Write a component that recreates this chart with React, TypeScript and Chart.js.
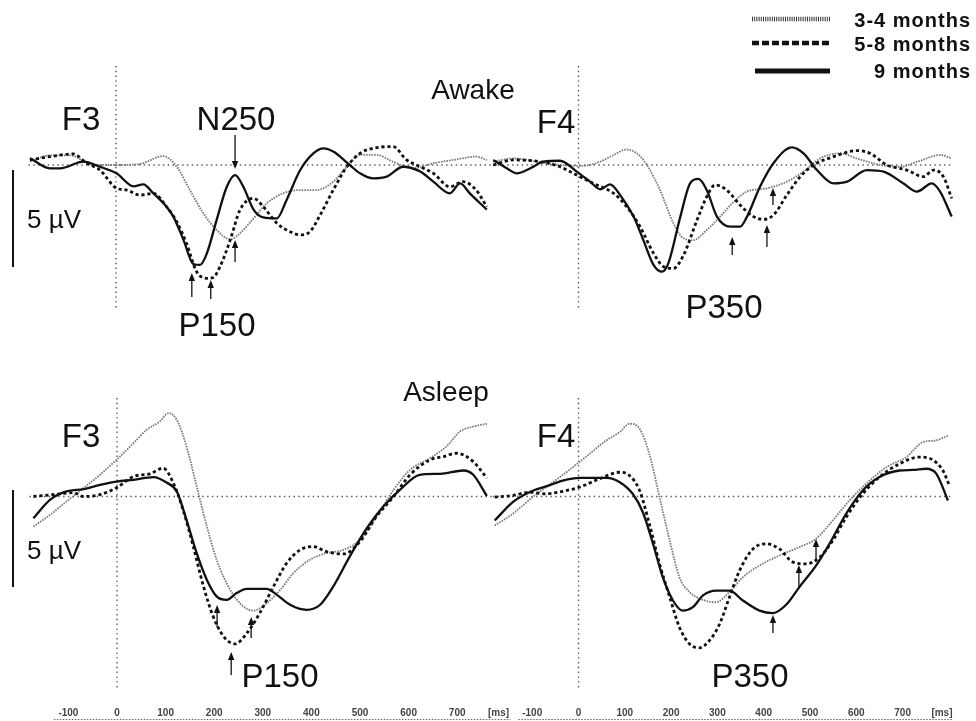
import React, { useEffect, useRef } from 'react';
import { Chart, registerables } from 'chart.js';

Chart.register(...registerables);

type Pt = [number, number];
type Arrow = [number, number, number]; // [ms, tail µV, tip µV]

const seriesNames = ['3-4 months', '5-8 months', '9 months'];
const xTickValues = [-100, 0, 100, 200, 300, 400, 500, 600, 700];
const xUnitLabel = '[ms]';

// ---- Awake, F3 ----
const awakeF3_34: Pt[] = [[-177,-0.17],[-136,-0.5],[-95,-0.5],[-47,0],[1,0],[49,-0.05],[97,-0.46],[125,0.09],[152,1.29],[180,2.5],[207,3.35],[235,3.83],[255,3.52],[283,2.75],[310,1.98],[344,1.46],[379,1.29],[413,1.29],[447,0.86],[475,0.09],[502,-0.52],[536,-0.52],[570,-0.17],[611,0.17],[653,-0.09],[694,-0.26],[741,-0.43],[763,-0.26]];
const awakeF3_58: Pt[] = [[-177,-0.26],[-136,-0.43],[-88,-0.57],[-60,-0.09],[-33,0.26],[1,1.2],[22,1.29],[49,1.55],[77,1.46],[104,2.15],[125,2.92],[145,4.04],[166,5.5],[187,5.84],[200,5.8],[214,5.24],[235,3.87],[255,2.32],[283,1.72],[303,2.15],[331,3.0],[358,3.44],[379,3.6],[399,3.44],[420,2.58],[447,1.29],[475,0.09],[502,-0.6],[529,-0.86],[570,-0.95],[598,-0.26],[626,0.09],[653,0.43],[687,1.12],[714,0.86],[741,1.29],[763,2.15]];
const awakeF3_9: Pt[] = [[-177,-0.35],[-136,0.17],[-115,0.17],[-67,-0.17],[-33,0.09],[1,0.43],[36,1.1],[56,1.0],[77,1.46],[104,2.15],[118,2.66],[139,3.87],[159,5.1],[173,5.15],[187,4.55],[207,2.84],[228,1.12],[245,0.52],[262,1.12],[283,2.3],[303,2.7],[331,2.75],[351,1.8],[379,0.26],[406,-0.6],[427,-0.86],[447,-0.69],[481,0],[502,0.43],[529,0.69],[557,0.6],[591,0.09],[626,0.34],[653,0.86],[687,1.46],[708,0.95],[728,1.46],[763,2.3]];

// ---- Awake, F4 ----
const awakeF4_34: Pt[] = [[-184,-0.17],[-140,-0.34],[-90,-0.17],[-40,0],[4,0.05],[47,-0.17],[76,-0.52],[104,-0.8],[126,-0.6],[148,0],[176,1.29],[205,3.0],[227,3.78],[248,3.87],[277,3.35],[306,2.66],[335,1.9],[364,1.37],[407,1.2],[450,0.86],[486,0.34],[522,-0.34],[565,-0.6],[601,-0.34],[652,0],[695,0.09],[738,-0.22],[781,-0.52],[806,-0.34]];
const awakeF4_58: Pt[] = [[-184,0],[-140,-0.26],[-83,-0.17],[-40,0.09],[-4,0.52],[32,0.95],[76,1.46],[104,2.15],[133,3.18],[162,4.55],[184,5.24],[205,5.33],[227,4.64],[256,2.84],[277,1.63],[295,1.03],[320,1.29],[349,2.06],[378,2.66],[400,2.8],[421,2.58],[450,1.55],[479,0.6],[508,0],[551,-0.43],[601,-0.74],[630,-0.6],[666,0],[709,0.26],[745,0.6],[767,0.26],[788,0.6],[806,1.72]];
const awakeF4_9: Pt[] = [[-184,-0.26],[-155,0.17],[-133,0.43],[-104,0.17],[-76,-0.17],[-40,-0.22],[-4,0.34],[25,0.86],[47,1.25],[68,1.0],[90,1.55],[119,2.66],[140,3.87],[162,5.15],[180,5.5],[194,5.07],[220,2.66],[241,0.95],[259,0.72],[277,1.29],[299,2.66],[328,3.18],[349,3.18],[364,2.66],[392,1.12],[421,-0.09],[461,-0.91],[486,-0.6],[515,0.26],[551,0.95],[580,0.86],[623,0.26],[659,0.34],[702,0.95],[731,1.37],[763,0.95],[781,1.37],[806,2.66]];

// ---- Asleep, F3 ----
const asleepF3_34: Pt[] = [[-172,1.55],[-138,0.95],[-104,0.26],[-69,-0.43],[-35,-1.12],[-1,-1.89],[34,-2.75],[61,-3.44],[88,-3.87],[106,-4.3],[123,-3.95],[143,-2.58],[164,-0.52],[185,1.55],[205,3.26],[233,4.81],[260,5.67],[281,5.88],[308,5.5],[336,4.81],[363,3.95],[397,3.26],[431,2.92],[466,2.75],[500,2.23],[534,1.03],[569,-0.34],[603,-1.37],[644,-1.98],[678,-2.58],[706,-3.35],[734,-3.61],[761,-3.75]];
const asleepF3_58: Pt[] = [[-172,0],[-131,-0.1],[-90,-0.2],[-69,0],[-35,-0.1],[-1,-0.45],[34,-1.03],[68,-1.17],[95,-1.46],[116,-0.69],[136,0.69],[157,2.58],[178,4.64],[198,6.19],[219,7.2],[243,7.6],[267,7.05],[294,6.0],[322,4.64],[349,3.44],[377,2.75],[404,2.58],[431,2.84],[466,2.96],[500,2.32],[534,1.03],[569,0],[603,-1.12],[644,-1.89],[672,-2.06],[699,-2.23],[733,-1.8],[761,-0.95]];
const asleepF3_9: Pt[] = [[-172,1.12],[-138,0.17],[-104,-0.26],[-69,-0.38],[-35,-0.6],[-1,-0.77],[34,-0.86],[75,-1.0],[102,-0.72],[123,-0.26],[143,1.2],[164,2.92],[185,4.3],[205,5.15],[226,5.33],[246,4.98],[267,4.76],[308,4.76],[329,5.07],[356,5.58],[390,5.84],[418,5.58],[445,4.64],[479,3.09],[514,1.63],[548,0.52],[582,-0.34],[623,-1.12],[665,-1.17],[713,-1.34],[733,-1.12],[761,-0.03]];

// ---- Asleep, F4 ----
const asleepF4_34: Pt[] = [[-181,1.49],[-142,0.89],[-99,0.03],[-55,-0.74],[-12,-1.51],[24,-2.2],[60,-2.89],[89,-3.32],[110,-3.75],[132,-3.49],[153,-2.2],[175,0.03],[197,2.27],[218,4.16],[240,4.93],[269,5.33],[297,5.45],[326,4.93],[355,4.16],[391,3.56],[434,3.04],[477,2.61],[513,2.18],[549,1.24],[585,0.21],[621,-0.65],[665,-1.51],[708,-2.03],[744,-2.8],[772,-2.89],[798,-3.14]];
const asleepF4_58: Pt[] = [[-181,0.03],[-142,-0.05],[-106,-0.22],[-70,-0.14],[-34,-0.27],[2,-0.48],[45,-0.91],[89,-1.25],[110,-1.08],[132,-0.31],[153,1.41],[175,3.47],[197,5.19],[218,6.74],[240,7.6],[261,7.8],[283,7.42],[305,6.56],[326,5.19],[348,3.81],[377,2.7],[405,2.44],[434,2.7],[463,3.38],[492,3.47],[521,3.13],[549,2.27],[578,1.07],[614,-0.14],[650,-1.0],[693,-1.68],[736,-2.03],[765,-1.89],[787,-1.34],[801,-0.57]];
const asleepF4_9: Pt[] = [[-181,1.24],[-142,0.29],[-106,-0.22],[-70,-0.52],[-34,-0.82],[2,-0.96],[60,-0.96],[89,-0.74],[117,-0.14],[139,0.81],[161,2.44],[182,4.16],[204,5.36],[225,5.88],[247,5.7],[269,5.1],[297,4.85],[326,4.85],[355,5.36],[391,5.88],[420,6.01],[449,5.57],[477,4.67],[513,3.56],[542,2.44],[578,0.89],[614,-0.31],[650,-1.0],[693,-1.34],[722,-1.37],[751,-1.43],[773,-1.17],[798,0.21]];

// ---- Peak arrows [ms, tail µV, tip µV] ----
const awakeF3Arrows: Arrow[] = [[245,-1.55,0.21],[156,6.8,5.57],[195,6.91,5.93],[245,5.0,3.87]];
const awakeF4Arrows: Arrow[] = [[332,4.64,3.71],[407,4.23,3.09],[420,2.06,1.19]];
const asleepF3Arrows: Arrow[] = [[206,6.73,5.59],[276,7.29,6.21],[235,9.2,8.02]];
const asleepF4Arrows: Arrow[] = [[420,7.04,6.11],[476,4.66,3.53],[513,3.38,2.19]];

// ---- layout ----
const W = 976;
const H = 721;
const FONT = '"Liberation Sans", Arial, Helvetica, sans-serif';
const PX_PER_UV = 19.4;
const SCALE_BAR_UV = 5;

const panels = [
  { key: 'AF3', zeroX: 116, baseY: 165, pxPerMs: 0.486, series: [awakeF3_34, awakeF3_58, awakeF3_9], arrows: awakeF3Arrows, base: [-180, 780], vLine: [66, 308], scaleBarFrom: 0.26, axis: false },
  { key: 'AF4', zeroX: 578.5, baseY: 165, pxPerMs: 0.463, series: [awakeF4_34, awakeF4_58, awakeF4_9], arrows: awakeF4Arrows, base: [-185, 808], vLine: [66, 308], scaleBarFrom: null, axis: false },
  { key: 'SF3', zeroX: 117, baseY: 496.5, pxPerMs: 0.486, series: [asleepF3_34, asleepF3_58, asleepF3_9], arrows: asleepF3Arrows, base: [-180, 780], vLine: [398, 690], scaleBarFrom: -0.33, axis: true },
  { key: 'SF4', zeroX: 578.5, baseY: 496.5, pxPerMs: 0.463, series: [asleepF4_34, asleepF4_58, asleepF4_9], arrows: asleepF4Arrows, base: [-185, 808], vLine: [398, 690], scaleBarFrom: null, axis: true },
];

const seriesStyle = [
  { color: '#7a7a7a', width: 1.8, dash: [1.6, 1.1], order: 2 },
  { color: '#111111', width: 2.8, dash: [3.2, 2.8], order: 1 },
  { color: '#111111', width: 2.3, dash: [] as number[], order: 0 },
];

const labels = [
  { t: 'Awake', x: 473, y: 99, size: 28 },
  { t: 'F3', x: 81, y: 130, size: 33 },
  { t: 'N250', x: 236, y: 130, size: 33 },
  { t: 'F4', x: 556, y: 133, size: 33 },
  { t: '5 µV', x: 54, y: 228, size: 26 },
  { t: 'P150', x: 217, y: 336, size: 33 },
  { t: 'P350', x: 724, y: 318, size: 33 },
  { t: 'Asleep', x: 446, y: 401, size: 28 },
  { t: 'F3', x: 81, y: 447, size: 33 },
  { t: 'F4', x: 556, y: 447, size: 33 },
  { t: '5 µV', x: 54, y: 559, size: 26 },
  { t: 'P150', x: 280, y: 687, size: 33 },
  { t: 'P350', x: 750, y: 687, size: 33 },
];

const legendRows = [
  { y: 19, textY: 27, x1: 752, dash: [1, 1.2], width: 4.5, color: '#333' },
  { y: 43, textY: 51, x1: 752, dash: [7, 3], width: 4.5, color: '#111' },
  { y: 71, textY: 78, x1: 755, dash: [] as number[], width: 5, color: '#111' },
];

function dottedStyle(ctx: CanvasRenderingContext2D) {
  ctx.strokeStyle = '#555';
  ctx.lineWidth = 1.4;
  ctx.setLineDash([1.4, 3.4]);
}

function drawArrow(ctx: CanvasRenderingContext2D, x: number, yTail: number, yTip: number) {
  const dir = yTip < yTail ? 1 : -1; // 1 => pointing up
  ctx.setLineDash([]);
  ctx.strokeStyle = '#111';
  ctx.fillStyle = '#111';
  ctx.lineWidth = 1.3;
  ctx.beginPath();
  ctx.moveTo(x, yTail);
  ctx.lineTo(x, yTip + dir * 5);
  ctx.stroke();
  ctx.beginPath();
  ctx.moveTo(x, yTip);
  ctx.lineTo(x - 3.2, yTip + dir * 8);
  ctx.lineTo(x + 3.2, yTip + dir * 8);
  ctx.closePath();
  ctx.fill();
}

const annotPlugin = {
  id: 'erpAnnotations',
  beforeDatasetsDraw(chart: any) {
    const ctx: CanvasRenderingContext2D = chart.ctx;
    ctx.save();
    for (const p of panels) {
      const xs = chart.scales['x' + p.key];
      const ys = chart.scales['y' + p.key];
      dottedStyle(ctx);
      const y0 = ys.getPixelForValue(0);
      ctx.beginPath();
      ctx.moveTo(xs.getPixelForValue(p.base[0]), y0);
      ctx.lineTo(xs.getPixelForValue(p.base[1]), y0);
      ctx.stroke();
      const x0 = xs.getPixelForValue(0);
      ctx.beginPath();
      ctx.moveTo(x0, p.vLine[0]);
      ctx.lineTo(x0, p.vLine[1]);
      ctx.stroke();
    }
    ctx.restore();
  },
  afterDatasetsDraw(chart: any) {
    const ctx: CanvasRenderingContext2D = chart.ctx;
    ctx.save();
    for (const p of panels) {
      const xs = chart.scales['x' + p.key];
      const ys = chart.scales['y' + p.key];
      // scale bar
      if (p.scaleBarFrom !== null) {
        ctx.setLineDash([]);
        ctx.strokeStyle = '#111';
        ctx.lineWidth = 2;
        ctx.beginPath();
        ctx.moveTo(13, ys.getPixelForValue(p.scaleBarFrom));
        ctx.lineTo(13, ys.getPixelForValue(p.scaleBarFrom + SCALE_BAR_UV));
        ctx.stroke();
      }
      // arrows
      for (const [ms, tail, tip] of p.arrows) {
        drawArrow(ctx, xs.getPixelForValue(ms), ys.getPixelForValue(tail), ys.getPixelForValue(tip));
      }
      // bottom time axis
      if (p.axis) {
        dottedStyle(ctx);
        ctx.strokeStyle = '#666';
        ctx.lineWidth = 1.2;
        ctx.setLineDash([1.5, 1.5]);
        ctx.beginPath();
        ctx.moveTo(xs.getPixelForValue(-130), 719.5);
        ctx.lineTo(xs.getPixelForValue(810), 719.5);
        ctx.stroke();
        ctx.setLineDash([]);
        ctx.fillStyle = '#444';
        ctx.font = `bold 10px ${FONT}`;
        ctx.textAlign = 'center';
        ctx.textBaseline = 'alphabetic';
        for (const v of xTickValues) {
          ctx.fillText(String(v), xs.getPixelForValue(v), 716);
        }
        ctx.fillText(xUnitLabel, xs.getPixelForValue(785), 716);
      }
    }
    // text labels
    ctx.fillStyle = '#111';
    ctx.textAlign = 'center';
    ctx.textBaseline = 'alphabetic';
    for (const l of labels) {
      ctx.font = `${l.size}px ${FONT}`;
      ctx.fillText(l.t, l.x, l.y);
    }
    // legend
    legendRows.forEach((r, i) => {
      ctx.strokeStyle = r.color;
      ctx.lineWidth = r.width;
      ctx.setLineDash(r.dash);
      ctx.beginPath();
      ctx.moveTo(r.x1, r.y);
      ctx.lineTo(830, r.y);
      ctx.stroke();
      ctx.setLineDash([]);
      ctx.fillStyle = '#111';
      ctx.font = `bold 20px ${FONT}`;
      (ctx as any).letterSpacing = '1px';
      ctx.textAlign = 'right';
      ctx.fillText(seriesNames[i], 971, r.textY);
      (ctx as any).letterSpacing = '0px';
    });
    ctx.restore();
  },
};

export default function App() {
  const canvasRef = useRef<HTMLCanvasElement | null>(null);

  useEffect(() => {
    const canvas = canvasRef.current;
    if (!canvas) return;
    const scales: any = {};
    const datasets: any[] = [];
    for (const p of panels) {
      scales['x' + p.key] = {
        type: 'linear', axis: 'x', display: false,
        min: -p.zeroX / p.pxPerMs, max: (W - p.zeroX) / p.pxPerMs,
      };
      scales['y' + p.key] = {
        type: 'linear', axis: 'y', display: false, reverse: true,
        min: -p.baseY / PX_PER_UV, max: (H - p.baseY) / PX_PER_UV,
      };
      p.series.forEach((s, i) => {
        const st = seriesStyle[i];
        datasets.push({
          label: seriesNames[i],
          data: s.map(([x, y]) => ({ x, y })),
          xAxisID: 'x' + p.key,
          yAxisID: 'y' + p.key,
          borderColor: st.color,
          borderWidth: st.width,
          borderDash: st.dash,
          borderCapStyle: 'butt',
          pointRadius: 0,
          fill: false,
          tension: 0.4,
          cubicInterpolationMode: 'monotone',
          order: st.order,
        });
      });
    }
    const chart = new Chart(canvas, {
      type: 'line',
      data: { datasets },
      options: {
        animation: false,
        responsive: false,
        events: [],
        layout: { padding: 0 },
        plugins: { legend: { display: false }, tooltip: { enabled: false }, title: { display: false } },
        scales,
      },
      plugins: [annotPlugin],
    } as any);
    return () => chart.destroy();
  }, []);

  return (
    <div style={{ position: 'absolute', left: 0, top: 0, width: W, height: H, background: '#fff' }}>
      <canvas ref={canvasRef} width={W} height={H} style={{ display: 'block', width: W, height: H }} />
    </div>
  );
}
